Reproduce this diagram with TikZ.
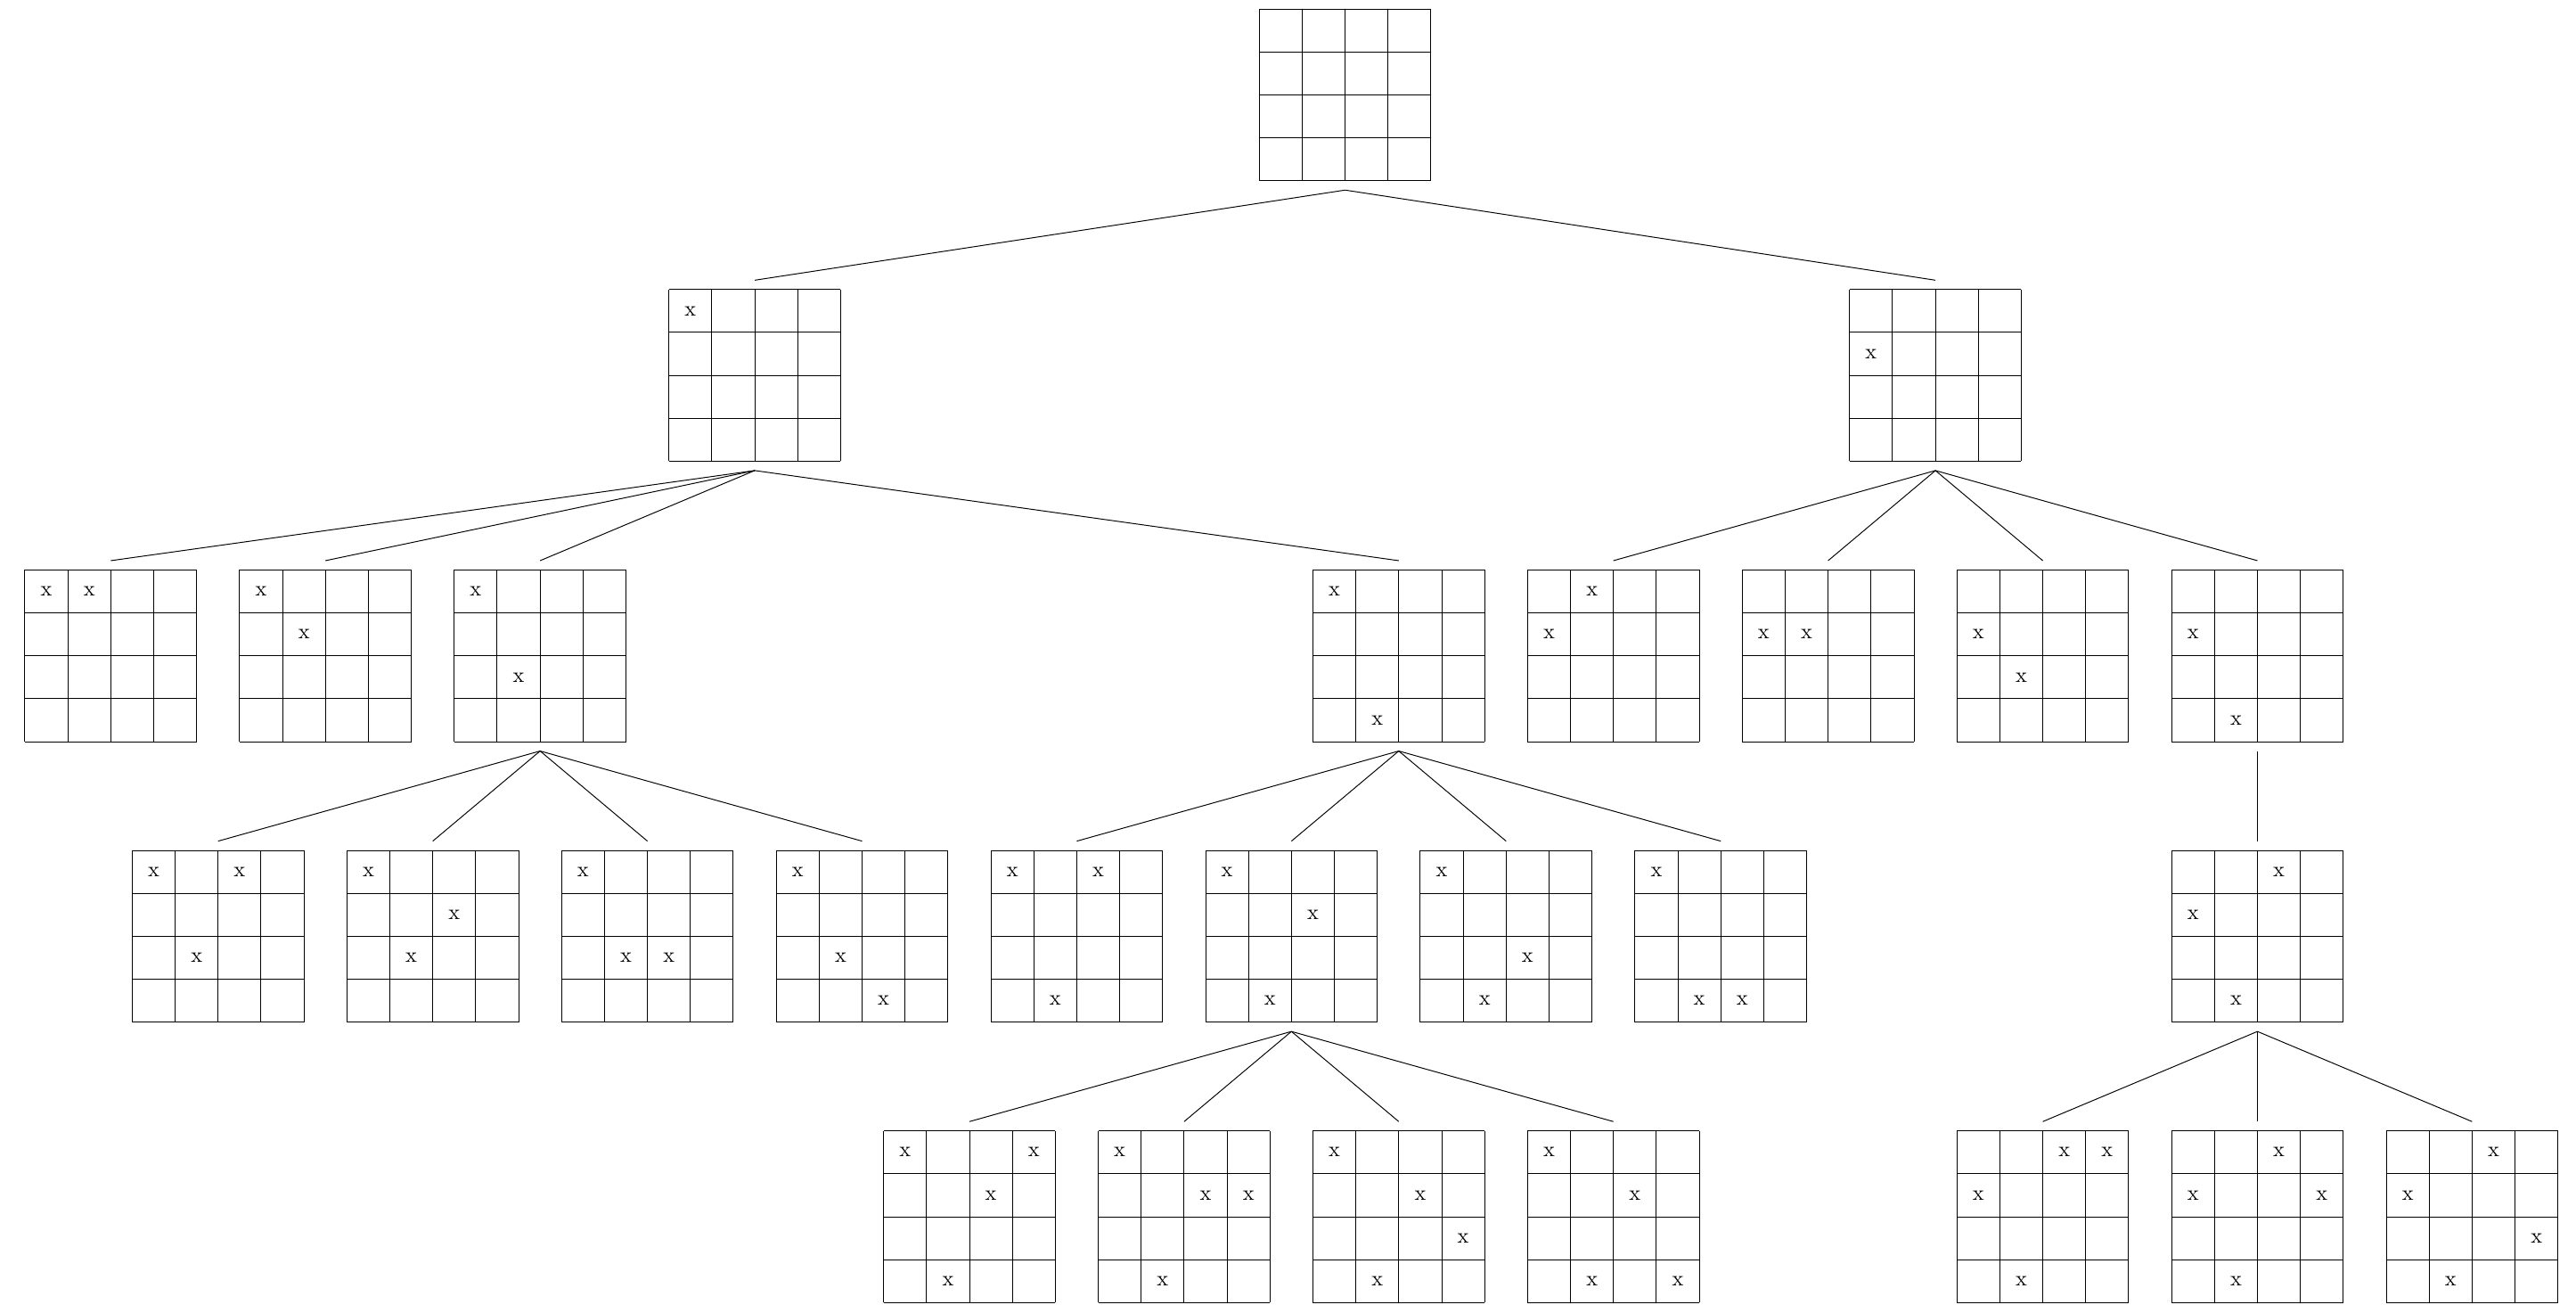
\documentclass[tikz,border=0pt]{standalone}
\usepackage{tikz}

\tikzset{
	board/.style={minimum size=2.8cm, inner sep=0pt, outer sep=4.3pt},
	xmark/.style={inner sep=0pt},
	link/.style={line width=0.4pt}
}

% a 4x4 board: name, centre, list of row/column marks
\newcommand{\board}[3]{%
	\begin{scope}[shift={(#2)}]
		\node[board] (#1) at (0,0) {};
		\draw[step=0.7cm] (-2,-2) grid (2,2);
		\def\boardmarks{#3}%
		\ifx\boardmarks\empty\else
			\foreach \mr/\mc in {#3} \node[xmark] at (\mc-2.5,2.5-\mr) {x};
		\fi
	\end{scope}
}

\begin{document}
\begin{tikzpicture}[x=0.7cm, y=0.7cm]
	\useasboundingbox (-2.58,2.21) rectangle (57.42,-28.36);
	% level 0 and 1
	\board{r}{28.75,0}{}
	\board{r1}{15,-6.53}{1/1}
	\board{r2}{42.5,-6.53}{2/1}
	% level 2
	\board{r11}{0,-13.06}{1/1,1/2}
	\board{r12}{5,-13.06}{1/1,2/2}
	\board{r13}{10,-13.06}{1/1,3/2}
	\board{r14}{30,-13.06}{1/1,4/2}
	\board{r21}{35,-13.06}{1/2,2/1}
	\board{r22}{40,-13.06}{2/1,2/2}
	\board{r23}{45,-13.06}{2/1,3/2}
	\board{r24}{50,-13.06}{2/1,4/2}
	% level 3
	\board{r131}{2.5,-19.59}{1/1,1/3,3/2}
	\board{r132}{7.5,-19.59}{1/1,2/3,3/2}
	\board{r133}{12.5,-19.59}{1/1,3/2,3/3}
	\board{r134}{17.5,-19.59}{1/1,3/2,4/3}
	\board{r141}{22.5,-19.59}{1/1,1/3,4/2}
	\board{r142}{27.5,-19.59}{1/1,2/3,4/2}
	\board{r143}{32.5,-19.59}{1/1,3/3,4/2}
	\board{r144}{37.5,-19.59}{1/1,4/2,4/3}
	\board{r241}{50,-19.59}{1/3,2/1,4/2}
	% level 4
	\board{r1421}{20,-26.12}{1/1,1/4,2/3,4/2}
	\board{r1422}{25,-26.12}{1/1,2/3,2/4,4/2}
	\board{r1423}{30,-26.12}{1/1,2/3,3/4,4/2}
	\board{r1424}{35,-26.12}{1/1,2/3,4/2,4/4}
	\board{r2411}{45,-26.12}{1/3,1/4,2/1,4/2}
	\board{r2412}{50,-26.12}{1/3,2/1,2/4,4/2}
	\board{r2413}{55,-26.12}{1/3,2/1,3/4,4/2}
	% links
	\foreach \p/\c in {r/r1, r/r2,
			r1/r11, r1/r12, r1/r13, r1/r14,
			r2/r21, r2/r22, r2/r23, r2/r24,
			r13/r131, r13/r132, r13/r133, r13/r134,
			r14/r141, r14/r142, r14/r143, r14/r144,
			r24/r241,
			r142/r1421, r142/r1422, r142/r1423, r142/r1424,
			r241/r2411, r241/r2412, r241/r2413}
		\draw[link] (\p.south) -- (\c.north);
\end{tikzpicture}
\end{document}
